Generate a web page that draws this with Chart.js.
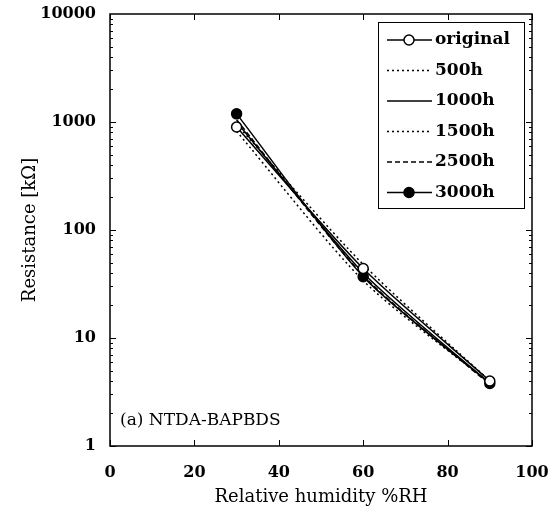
<!DOCTYPE html>
<html>
<head>
<meta charset="utf-8">
<script src="https://cdn.jsdelivr.net/npm/chart.js@4/dist/chart.umd.min.js"></script>
<style>
  html, body { margin: 0; padding: 0; background: #fff; }
  #wrap { width: 557px; height: 522px; }
</style>
</head>
<body>
<div id="wrap"><canvas id="resChart" width="557" height="522"></canvas></div>
<script>
// humidity points (%RH)
const humidity = [30, 60, 90];

// resistance in kOhm for each ageing time
const original = [900, 44, 4.0];
const h500 = [820, 34, 3.8];
const h1000 = [1000, 40, 3.8];
const h1500 = [950, 48, 4.0];
const h2500 = [1050, 38, 3.7];
const h3000 = [1190, 37, 3.8];

const xTicks = [0, 20, 40, 60, 80, 100];
const yTicks = [1, 10, 100, 1000, 10000];

const serif = '"DejaVu Serif", "Liberation Serif", serif';

function pts(vals) {
    return humidity.map(function (h, i) { return { x: h, y: vals[i] }; });
}

function series(label, vals, opts) {
    return Object.assign({
        label: label,
        data: pts(vals),
        borderColor: '#000',
        backgroundColor: '#000',
        borderWidth: 1.5,
        pointRadius: 0,
        tension: 0.25,
        fill: false
    }, opts);
}

// inward ticks, frame, annotation and legend box
const frame = {
    id: 'frame',
    afterDraw: function (chart) {
        const c = chart.ctx, a = chart.chartArea;
        const xs = chart.scales.x, ys = chart.scales.y;
        c.save();
        c.strokeStyle = '#000';
        c.lineWidth = 1.5;
        c.strokeRect(a.left, a.top, a.right - a.left, a.bottom - a.top);
        c.lineWidth = 1;
        c.beginPath();
        xTicks.forEach(function (v) {
            const px = Math.round(xs.getPixelForValue(v)) + 0.5;
            c.moveTo(px, a.bottom); c.lineTo(px, a.bottom - 6);
            c.moveTo(px, a.top); c.lineTo(px, a.top + 6);
        });
        for (let d = 1; d < 10000; d *= 10) {
            for (let k = 1; k <= 9; k++) {
                const py = Math.round(ys.getPixelForValue(d * k)) + 0.5;
                const len = k === 1 ? 6 : 3;
                c.moveTo(a.left, py); c.lineTo(a.left + len, py);
                c.moveTo(a.right, py); c.lineTo(a.right - len, py);
            }
        }
        c.stroke();

        c.fillStyle = '#000';
        c.font = '17px ' + serif;
        c.textBaseline = 'middle';
        c.textAlign = 'left';
        c.fillText('(a) NTDA-BAPBDS', a.left + 10, 421);

        const bx = 378, by = 22, bw = 146, bh = 186;
        c.lineWidth = 1;
        c.fillStyle = '#fff';
        c.fillRect(bx, by, bw, bh);
        c.strokeRect(bx + 0.5, by + 0.5, bw, bh);
        c.font = 'bold 17px ' + serif;
        chart.data.datasets.forEach(function (ds, i) {
            const y = by + 18 + i * 30.5;
            c.strokeStyle = '#000';
            c.lineWidth = ds.borderWidth;
            c.setLineDash(ds.borderDash || []);
            c.beginPath();
            c.moveTo(bx + 9, y); c.lineTo(bx + 54, y);
            c.stroke();
            c.setLineDash([]);
            if (ds.pointRadius > 0) {
                c.beginPath();
                c.arc(bx + 31, y, ds.pointRadius, 0, Math.PI * 2);
                c.fillStyle = ds.pointBackgroundColor;
                c.fill();
                c.lineWidth = 1.5;
                c.stroke();
            }
            c.fillStyle = '#000';
            c.fillText(ds.label, bx + 57, y);
        });
        c.restore();
    }
};

new Chart(document.getElementById('resChart'), {
    type: 'line',
    data: {
        datasets: [
            series('original', original, { pointRadius: 5, pointBackgroundColor: '#fff', pointBorderColor: '#000', pointBorderWidth: 1.5 }),
            series('500h', h500, { borderDash: [2, 3] }),
            series('1000h', h1000, {}),
            series('1500h', h1500, { borderDash: [2, 3] }),
            series('2500h', h2500, { borderDash: [5, 3] }),
            series('3000h', h3000, { pointRadius: 5, pointBackgroundColor: '#000', pointBorderColor: '#000' })
        ]
    },
    options: {
        responsive: false,
        animation: false,
        layout: { padding: { top: 14, right: 25, left: 0, bottom: 0 } },
        plugins: {
            legend: { display: false },
            tooltip: { enabled: false }
        },
        scales: {
            x: {
                type: 'linear',
                min: 0,
                max: 100,
                afterBuildTicks: function (s) { s.ticks = xTicks.map(function (v) { return { value: v }; }); },
                afterFit: function (s) {
                    s.height = 76;
                    s.paddingLeft = 0;
                    s.paddingRight = 0;
                },
                grid: { display: false, drawTicks: false },
                border: { display: false },
                ticks: {
                    color: '#000',
                    padding: 17,
                    maxRotation: 0,
                    font: { family: serif, size: 16, weight: 'bold' }
                },
                title: {
                    display: true,
                    text: 'Relative humidity %RH',
                    color: '#000',
                    padding: { top: 4, bottom: 14 },
                    font: { family: serif, size: 18 }
                }
            },
            y: {
                type: 'logarithmic',
                min: 1,
                max: 10000,
                afterBuildTicks: function (s) { s.ticks = yTicks.map(function (v) { return { value: v }; }); },
                afterFit: function (s) {
                    s.width = 110;
                    s.paddingTop = 0;
                    s.paddingBottom = 0;
                },
                grid: { display: false, drawTicks: false },
                border: { display: false },
                ticks: {
                    color: '#000',
                    padding: 14,
                    callback: function (v) { return String(v); },
                    font: { family: serif, size: 16, weight: 'bold' }
                },
                title: {
                    display: true,
                    text: 'Resistance [kΩ]',
                    color: '#000',
                    padding: { top: 20, bottom: 4 },
                    font: { family: serif, size: 18 }
                }
            }
        }
    },
    plugins: [frame]
});
</script>
</body>
</html>
